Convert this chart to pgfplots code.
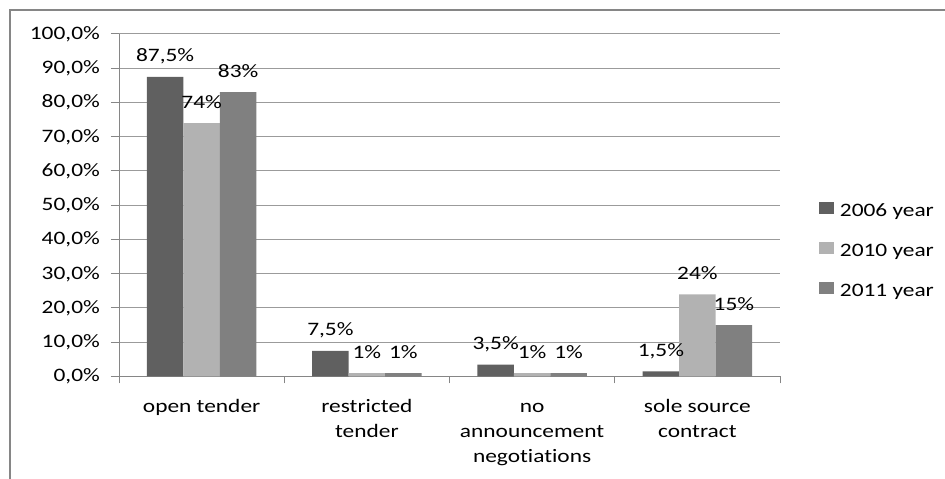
\documentclass[border=0pt]{standalone}
\usepackage{fontspec}
\setmainfont{Carlito}[FakeStretch=1.23, Ligatures=NoCommon]
\usepackage{pgfplots}
\pgfplotsset{compat=1.18}
\definecolor{cA}{RGB}{96,96,96}
\definecolor{cB}{RGB}{178,178,178}
\definecolor{cC}{RGB}{128,128,128}
\definecolor{axc}{RGB}{134,134,134}
\definecolor{grc}{RGB}{155,155,155}
\newcommand{\cf}{\fontsize{19bp}{25bp}\selectfont}
\begin{document}
\begin{tikzpicture}
\useasboundingbox (0,0) rectangle (945bp,479bp);
\draw[axc, line width=2bp] (10bp,0) -- (10bp,469bp) -- (945bp,469bp);
\begin{axis}[
  at={(119bp,102.5bp)}, anchor=south west,
  scale only axis, width=661bp, height=342.5bp,
  xmin=-0.5, xmax=3.5, ymin=0, ymax=100,
  ybar=0pt, bar width=36.5bp,
  axis x line*=bottom, axis y line*=left,
  axis line style={axc, line width=1bp, -},
  ymajorgrids, grid style={grc, line width=1bp},
  ytick={0,10,...,100},
  yticklabels={{0,0\%},{10,0\%},{20,0\%},{30,0\%},{40,0\%},{50,0\%},{60,0\%},{70,0\%},{80,0\%},{90,0\%},{100,0\%}},
  xtick={0,1,2,3},
  xticklabels={{\strut open tender},{\strut restricted\\tender},{\strut no\\announcement\\negotiations},{\strut sole source\\contract}},
  minor xtick={-0.5,0.5,1.5,2.5,3.5},
  tick align=outside,
  major tick length=8bp, minor tick length=7bp,
  tick style={axc, line width=1bp},
  major x tick style={draw=none},
  yticklabel style={anchor=east, inner sep=0pt, xshift=-11bp, font=\cf},
  xticklabel style={anchor=north, align=center, inner sep=0pt, yshift=-10bp, font=\cf},
  point meta=explicit symbolic,
  nodes near coords,
  every node near coord/.append style={anchor=base, yshift=15bp, inner sep=0pt, font=\cf, text=black},
  legend entries={2006 year, 2010 year, 2011 year},
  legend cell align=left,
  legend image code/.code={\fill[#1] (0bp,-1.5bp) rectangle (15bp,10.1bp);},
  legend style={draw=none, fill=none, at={(1.0545,0.5156)}, anchor=north west,
    font=\cf, row sep=21.5bp,
    nodes={inner sep=0pt, text height=13bp, text depth=4bp},
    /tikz/every odd column/.append style={column sep=5.7bp}},
]
\addplot[fill=cA, draw=none] coordinates {(0,87.5) [{87,5\%}] (1,7.5) [{7,5\%}] (2,3.5) [{3,5\%}] (3,1.5) [{1,5\%}]};
\addplot[fill=cB, draw=none] coordinates {(0,74) [{74\%}] (1,1) [{1\%}] (2,1) [{1\%}] (3,24) [{24\%}]};
\addplot[fill=cC, draw=none] coordinates {(0,83) [{83\%}] (1,1) [{1\%}] (2,1) [{1\%}] (3,15) [{15\%}]};
\end{axis}
\end{tikzpicture}
\end{document}
